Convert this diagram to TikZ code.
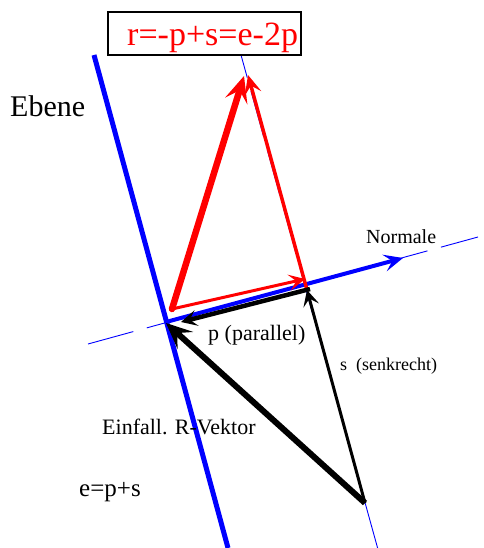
\documentclass[tikz,border=0pt]{standalone}
\usepackage{fontspec}
\setmainfont{Liberation Serif}
\usetikzlibrary{arrows.meta}
\definecolor{pblue}{RGB}{0,0,255}
\definecolor{pred}{RGB}{255,0,0}
\tikzset{
  lbl/.style={anchor=base west, inner sep=0pt, text=black},
  guide/.style={draw=pblue, line width=0.9pt, dash pattern=on 47pt off 14pt},
  tipS/.style={-{Stealth[length=16pt, width=16pt, inset=7pt]}},
  tipM/.style={-{Stealth[length=19pt, width=17pt, inset=8pt]}},
  tipL/.style={-{Stealth[length=26pt, width=23pt, inset=11pt]}},
}
\begin{document}
\begin{tikzpicture}[x=1pt, y=-1pt]
\useasboundingbox (0,0) rectangle (483,548);
% key points
\coordinate (O) at (166,322);
\coordinate (E) at (365,503);
\coordinate (S) at (307,290);
\coordinate (Ptop) at (94,55);
\coordinate (Pbot) at (228,548);
\coordinate (Nl) at (88,344);
\coordinate (Nr) at (478,237);
\coordinate (Nt) at (403,258);
\coordinate (Gt) at (241,55);
\coordinate (Gb) at (377.6,548);
\coordinate (Rs) at (172,309);
\coordinate (Rp) at (305,279);
\coordinate (Rt) at (244,76);
\coordinate (Rt2) at (248,75);
\coordinate (Ps) at (310,289);
\coordinate (Pt) at (181,322);
\coordinate (Et) at (166,323);
% guide lines
\draw[guide] (Nl) -- (Nr);
\draw[guide] (Gb) -- (Gt);
% plane
\draw[pblue, line width=5pt] (Ptop) -- (Pbot);
% normal arrow
\draw[pblue, line width=4pt, tipM] (O) -- (Nt);
% red arrows
\draw[pred, line width=3pt, tipS] (Rs) -- (Rp);
\draw[pred, line width=6.5pt, tipL, line cap=round] (Rs) -- (Rt);
\draw[pred, line width=3.5pt, tipM] (S) -- (Rt2);
% black arrows
\draw[black, line width=4.5pt, tipS] (Ps) -- (Pt);
\draw[black, line width=3pt, tipS] (E) -- (S);
\draw[black, line width=6pt, tipL] (E) -- (Et);
% title box
\node[draw, line width=1.6pt, minimum width=193pt, minimum height=43pt, inner sep=0pt] (box) at (204.5,33.5) {};
\node[lbl, text=pred, font=\fontsize{34}{40}\selectfont] (title) at (127,46) {r=-p+s=e-2p};
% labels
\node[lbl, font=\fontsize{30}{36}\selectfont] (ebene) at (10,117) {Ebene};
\node[lbl, font=\fontsize{20}{24}\selectfont] (normale) at (366,243) {Normale};
\node[lbl, font=\fontsize{22}{26}\selectfont] (par) at (208,340) {p (parallel)};
\node[lbl, font=\fontsize{18}{22}\selectfont] (senk) at (340,370) {s\ \ (senkrecht)};
\node[lbl, font=\fontsize{22}{26}\selectfont] (einf) at (102,434) {Einfall. R-Vektor};
\node[lbl, font=\fontsize{25}{30}\selectfont] (eps) at (79,496) {e=p+s};
\end{tikzpicture}
\end{document}
